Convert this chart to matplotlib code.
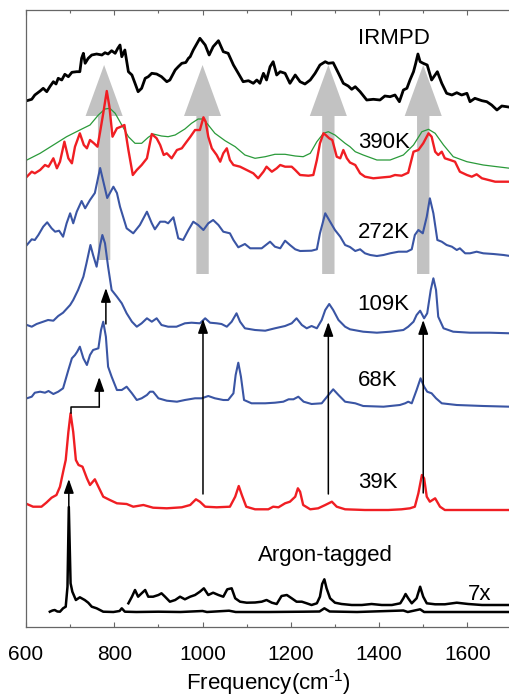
import matplotlib
matplotlib.use("Agg")
import matplotlib.pyplot as plt
from matplotlib.patches import Polygon

plt.rcParams['font.family'] = ['Liberation Sans', 'DejaVu Sans']
plt.rcParams['mathtext.fontset'] = 'custom'
plt.rcParams['mathtext.rm'] = 'Liberation Sans'
plt.rcParams['mathtext.it'] = 'Liberation Sans:italic'

# ---- spectra (frequency in cm-1, relative intensity in arbitrary units) ----
irmpd_freq = [602, 613, 620, 632, 639, 647, 654, 662, 668, 673, 681, 688, 696, 704, 715, 722, 726, 730, 734, 741,
              749, 760, 772, 779, 786, 794, 802, 808, 813, 817, 824, 832, 840, 847, 854, 862, 870, 877, 885, 896,
              907, 919, 926, 938, 945, 953, 962, 968, 972, 979, 994, 1006, 1015, 1024, 1036, 1047, 1058, 1070, 1081, 1092,
              1104, 1115, 1123, 1130, 1138, 1145, 1153, 1160, 1168, 1176, 1187, 1198, 1210, 1221, 1232, 1244, 1255, 1266, 1278, 1285,
              1296, 1308, 1319, 1330, 1338, 1346, 1357, 1372, 1387, 1402, 1413, 1425, 1436, 1446, 1455, 1463, 1470, 1478, 1483, 1488,
              1493, 1500, 1509, 1519, 1532, 1542, 1553, 1565, 1576, 1587, 1599, 1606, 1617, 1633, 1644, 1655, 1667, 1678, 1689, 1697]
irmpd_int = [26.3, 27.7, 32, 36, 38.7, 35.3, 40.3, 45.3, 43, 48.7, 47, 52.7, 50.3, 54.7, 55.3, 55.3, 68.7, 73.7, 63.7, 68.7,
             72, 73, 72, 74.3, 73, 76.3, 73.7, 78.7, 82, 70.3, 77, 55.3, 52, 43.7, 35.3, 38.7, 48.7, 50.3, 53.7, 53,
             50.3, 45.3, 47, 57, 60.3, 63.7, 64.5, 68.7, 70.3, 77, 88.7, 82, 72, 80.3, 86.3, 75.3, 73.7, 62, 53.7, 45.3,
             46.3, 43.7, 47, 43.7, 53.7, 47, 60.3, 65.3, 52, 55.3, 53.7, 43.7, 52, 45.3, 43, 47, 53.7, 62, 65.3, 63.7,
             64.3, 53.7, 43.7, 41, 37.7, 40.3, 35.3, 27, 27.7, 27, 31, 30.3, 32, 25.3, 37, 38.7, 47, 55.3, 63.7, 73,
             65.3, 63.7, 62, 47, 55.3, 43.7, 33.7, 32, 34.3, 32, 33.7, 25.3, 28.7, 26.3, 25.3, 22, 17, 21, 20.3, 19.7]

k390_freq = [602, 613, 620, 632, 643, 651, 662, 670, 677, 687, 696, 704, 711, 722, 731, 738, 745, 754, 762, 768,
             775, 783, 789, 796, 806, 815, 823, 832, 842, 851, 862, 874, 885, 896, 904, 912, 919, 930, 942, 953,
             964, 972, 983, 994, 1002, 1007, 1013, 1021, 1032, 1040, 1047, 1055, 1062, 1070, 1085, 1100, 1115, 1126, 1138, 1145,
             1157, 1168, 1176, 1187, 1202, 1210, 1221, 1240, 1251, 1259, 1266, 1274, 1279, 1287, 1294, 1304, 1312, 1319, 1327, 1334,
             1346, 1357, 1368, 1387, 1410, 1425, 1436, 1451, 1466, 1478, 1489, 1500, 1512, 1519, 1527, 1534, 1542, 1549, 1561, 1572,
             1583, 1599, 1610, 1621, 1633, 1648, 1663, 1674, 1693]
k390_int = [3.3, 8.3, 6.7, 10, 15, 13.3, 21.7, 11.7, 18.3, 38.3, 21.7, 16.7, 33.3, 46.7, 35, 31.7, 40, 36.7, 33.3, 48.3,
            66.7, 89, 73.3, 43.3, 51.7, 53.3, 55, 30, 5, 10, 15, 21.7, 46, 41.7, 35, 25, 26.7, 21.7, 30, 31.7,
            38.3, 43, 50, 50, 62.7, 58.3, 43.3, 31.7, 25, 18.3, 26.7, 31.7, 20, 15, 13.3, 10, 6.7, 1.7, 8.3, 13.3,
            8.3, 11.7, 15, 13.3, 13.3, 10, 5, 4.3, 5, 20, 36.7, 46.7, 45, 41.7, 40, 23.3, 21.7, 30, 21.7, 17.5,
            15, 6.7, 3.3, 1.7, 2.7, 3.3, 5, 4.3, 7.3, 28.3, 30, 36.7, 46.7, 43.3, 28.3, 25, 28.3, 21.7, 20, 18.3,
            8.3, 5, 3.3, 5.7, 1.7, 0, -1.7, -1.7, -1.7]

k390_broad_freq = [602, 632, 662, 692, 722, 745, 764, 779, 790, 802, 817, 832, 847, 862, 877, 888, 907, 922, 938, 960,
                   975, 990, 1002, 1013, 1028, 1051, 1074, 1096, 1119, 1142, 1164, 1187, 1210, 1228, 1244, 1259, 1274, 1285, 1300, 1323,
                   1334, 1346, 1364, 1395, 1425, 1455, 1478, 1497, 1512, 1527, 1546, 1568, 1599, 1636, 1667, 1697]
k390_broad_int = [20, 26.7, 35, 43.3, 50, 55, 65, 71, 71.7, 66.7, 55, 43.3, 36.7, 36.7, 42.7, 46, 44, 43.3, 45, 51,
                  56.7, 61, 61, 55, 46.7, 39.3, 33.3, 25, 21.7, 23.3, 25.7, 25.7, 24, 23.3, 26.7, 38.3, 46.7, 48.3, 45, 36.7,
                  33.3, 28.3, 25, 20, 20, 25, 35, 48.3, 50.7, 46.7, 35, 23.3, 18.3, 15, 13.3, 11.7]

k272_freq = [602, 613, 620, 628, 639, 648, 658, 666, 675, 684, 692, 700, 707, 715, 726, 734, 745, 756, 768, 784,
             798, 806, 813, 828, 843, 858, 874, 885, 892, 904, 915, 922, 934, 945, 956, 968, 979, 990, 1002, 1013,
             1024, 1036, 1047, 1062, 1070, 1081, 1096, 1108, 1134, 1153, 1164, 1176, 1187, 1198, 1210, 1221, 1247, 1259, 1266, 1278,
             1289, 1300, 1312, 1323, 1334, 1346, 1357, 1368, 1380, 1395, 1410, 1425, 1444, 1463, 1474, 1481, 1489, 1499, 1508, 1515,
             1523, 1532, 1542, 1553, 1565, 1576, 1583, 1595, 1606, 1621, 1636, 1659, 1682, 1697]
k272_int = [5, 10.7, 10, 15, 23.3, 27.7, 21.7, 18.3, 19.3, 13.3, 26.7, 36.7, 26.7, 38.3, 49, 41.7, 50, 57, 82, 52,
            63.3, 57, 43.3, 21.7, 16.7, 25, 38.3, 26.7, 20.7, 28.3, 28.3, 26.7, 32.7, 11.7, 10, 20, 28.3, 25, 20, 26.7,
            30, 25, 18.3, 16.7, 10, 2.7, 6, 1.7, 1.7, 8.3, 3.3, 1.7, 9.3, 5, 0.7, -1, -0.7, 0.7, 16.7, 36.7,
            28.3, 20, 13.3, 5, 3, -1, 0.7, -3.3, -5, -6, -5, -3.3, -1.7, -1.7, 0.7, 15, 20, 16.7, 33.3, 51.7,
            36.7, 10, 8.3, 5, 3.3, 0, 1.7, -3.3, -3.3, -1.7, -3.3, -4, -5, -6]

k109_freq = [602, 613, 624, 639, 650, 662, 673, 684, 700, 707, 718, 730, 737, 746, 752, 760, 768, 773, 779, 786,
             794, 806, 817, 828, 840, 851, 862, 874, 885, 896, 907, 922, 941, 960, 975, 994, 1006, 1017, 1032, 1043,
             1055, 1066, 1077, 1085, 1096, 1119, 1142, 1164, 1187, 1202, 1213, 1225, 1236, 1247, 1259, 1270, 1278, 1287, 1296, 1308,
             1323, 1334, 1364, 1395, 1425, 1455, 1466, 1478, 1485, 1493, 1502, 1509, 1517, 1523, 1529, 1534, 1546, 1568, 1606, 1651,
             1697]
k109_int = [5, 3.3, 6, 8.3, 10, 9.3, 14, 17.3, 25, 30, 40, 53.3, 66.7, 85, 75, 63.3, 85, 95, 86.7, 63.3,
            40, 33.3, 26.7, 16.7, 8.3, 3.3, 6.7, 11.7, 8.3, 11.7, 5, 3.3, 3.3, 6.7, 7.3, 6.7, 11.7, 7.3, 6.7, 6,
            3.3, 8.3, 16.7, 8.3, 1.7, 0, -0.7, 1.7, 4, 6.7, 11.7, 5, 1.7, 4, 1.7, 10, 20, 26, 20, 10,
            3.3, 0.7, -1.7, -2.7, -1.7, 0, 3.3, 8.3, 15, 19.3, 11.7, 16.7, 40, 51.7, 40, 13.3, 1.7, -1.7, -2.7, -2.7,
            -3.3]

k68_freq = [602, 613, 620, 632, 643, 651, 662, 673, 684, 696, 704, 711, 716, 722, 730, 738, 745, 752, 764, 770,
            775, 781, 786, 794, 806, 817, 828, 840, 851, 862, 874, 881, 888, 900, 919, 942, 960, 983, 998, 1013,
            1028, 1047, 1058, 1070, 1075, 1081, 1087, 1094, 1111, 1142, 1164, 1183, 1195, 1206, 1217, 1229, 1247, 1270, 1281, 1296,
            1308, 1323, 1346, 1364, 1410, 1447, 1459, 1466, 1474, 1485, 1494, 1502, 1509, 1519, 1529, 1542, 1576, 1636, 1697]
k68_int = [3.7, 5.3, 9.3, 10.3, 9.3, 11, 8, 10.3, 13.7, 32, 43.7, 47, 50.3, 55.3, 43.7, 37, 47, 52, 53.7, 72,
           80.3, 65.3, 35.3, 25.3, 12, 12, 15.3, 8.7, 2, 3.7, 7, 10.3, 10.3, 3.7, 1.3, 0.3, 2, 3.7, 3.7, 6,
           3.7, 2, 2, 8.7, 27, 39.3, 25.3, 2, -1.3, -1.3, -0.7, 0.3, 2.7, 2.7, 5.3, 0.3, -2, -1.3, 4.7, 12.7,
           7, 0.3, -1.3, -4, -4.7, -3, -1.3, 0.3, -1.3, 12, 23.7, 15.3, 10.3, 8.7, 3.7, -1.3, -3, -4, -4.7]

k39_freq = [602, 616, 635, 646, 658, 669, 677, 685, 690, 696, 701, 707, 713, 719, 728, 738, 745, 756, 764, 775,
            790, 806, 828, 843, 866, 888, 919, 953, 972, 985, 994, 1006, 1032, 1062, 1074, 1082, 1089, 1099, 1119, 1149,
            1160, 1172, 1187, 1198, 1210, 1216, 1221, 1228, 1244, 1262, 1278, 1293, 1304, 1323, 1368, 1421, 1451, 1470, 1481, 1489,
            1497, 1502, 1508, 1515, 1527, 1538, 1549, 1610, 1697]
k39_int = [3, 0.3, 0.3, 4.3, 9.3, 12, 20.3, 37, 47, 75, 93.7, 75, 47, 42, 40.3, 28.7, 22, 27.7, 20.3, 10.3,
           7, 3.7, 3, 0.3, 2, -0.7, -1.3, -0.3, 2, 7.7, 5.3, 0.3, -0.3, 0.3, 10.3, 21, 12, 0.3, -2.3, -2.3,
           0.3, -0.3, 3.7, 5.3, 10.3, 18.7, 15.3, 2, -2.3, -1.3, 2, 5.3, 0.3, -2.3, -3, -3, -2.3, -1.3, 0.3, 13.7,
           32, 28.7, 10.3, 5.3, 8.7, 0.3, -3, -3, -3]

argon_freq = [654, 660, 665, 671, 677, 684, 690, 694, 697, 701, 705, 713, 722, 733, 741, 749, 760, 775, 798, 812,
              817, 824, 850, 900, 950, 1000, 1010, 1060, 1075, 1150, 1230, 1265, 1276, 1288, 1350, 1455, 1465, 1493, 1502, 1600,
              1697]
argon_int = [0.3, 1.5, 2, 0.5, 0.3, 3.7, 5.3, 25.3, 105, 28.7, 20.3, 12, 14.7, 12, 9.3, 5.3, 3.7, 0.3, 0, 1,
             3.7, 0.3, 0, 0.3, 0, 1, 0, 1.3, 0, 0, 0.3, 0.5, 3.7, 0.5, 0, 1.5, 0, 2.7, 0, 0,
             0]

argon7x_freq = [832, 840, 847, 854, 862, 870, 877, 888, 900, 907, 915, 926, 938, 949, 960, 972, 983, 994, 1003, 1013,
                1024, 1036, 1047, 1056, 1066, 1074, 1085, 1100, 1119, 1134, 1145, 1157, 1168, 1179, 1191, 1202, 1213, 1225, 1236, 1247,
                1259, 1266, 1271, 1276, 1281, 1289, 1300, 1315, 1338, 1361, 1383, 1406, 1429, 1448, 1455, 1460, 1466, 1474, 1485, 1493,
                1500, 1508, 1527, 1549, 1576, 1602, 1633, 1663, 1697]
argon7x_int = [1.7, 8.3, 15, 8.3, 11.7, 15, 8.3, 8.3, 10, 11.7, 8.3, 3.3, 5, 8.3, 5.7, 8.3, 10, 13.3, 16.7, 10,
               12.3, 10, 8.3, 15.7, 16.7, 6.7, 3.3, 2.3, 2.5, 3.3, 5, 2.3, 1, 9, 10, 6.7, 3.3, 3.3, 1.7, 0,
               1.7, 8.3, 21, 25.7, 16.7, 6.7, 2.3, 1, 0, 0, 1, 0, 0, 1.7, 6.7, 11, 6.7, 1.7, 6.7, 18.3,
               8.3, 1.7, 0.7, 0.7, 2.3, 1, 0, 0, 0]

# vertical stacking offsets and styles
RED, BLUE, GREEN = '#f01e23', '#3a55a4', '#2a9a3a'
traces = [
    # (freq, intensity, offset, color, linewidth)
    (irmpd_freq, irmpd_int, 500, 'black', 2.0),
    (k390_broad_freq, k390_broad_int, 447, GREEN, 0.9),
    (k390_freq, k390_int, 447, RED, 1.7),
    (k272_freq, k272_int, 377, BLUE, 1.5),
    (k109_freq, k109_int, 297, BLUE, 1.5),
    (k68_freq, k68_int, 225, BLUE, 1.5),
    (k39_freq, k39_int, 120, RED, 1.7),
    (argon7x_freq, argon7x_int, 22, 'black', 1.8),
    (argon_freq, argon_int, 15, 'black', 1.8),
]

labels = [("IRMPD", 1352, 589), ("390K", 1352, 484), ("272K", 1351, 395),
          ("109K", 1351, 322), ("68K", 1351, 247), ("39K", 1352, 145),
          ("Argon-tagged", 1126, 72), ("7x", 1602, 32)]

# broad grey arrows: centre frequency, base of shaft
grey_arrow_freq = [777, 1000, 1285, 1500]
grey_arrow_base = [367, 353, 353, 353]
grey_arrow_tip, grey_head_base = 562, 511
shaft_half, head_half = 14, 42

# thin black correlation arrows: (freq, start, end)
thin_arrows = [(781, 303, 339), (1001, 133, 308), (1285, 133, 305),
               (1500, 134, 307), (697, 120, 148)]
elbow_path = [(701, 214), (701, 220), (766, 220)]
elbow_tip = (766, 250)

fig = plt.figure(figsize=(5.10, 6.99), dpi=100)
ax = fig.add_axes([26 / 510, 72 / 699, 485.5 / 510, 617 / 699])
ax.set_xlim(600, 1700)
ax.set_ylim(0, 617)

for f, base, in zip(grey_arrow_freq, grey_arrow_base):
    verts = [(f - shaft_half, base), (f + shaft_half, base),
             (f + shaft_half, grey_head_base), (f + head_half, grey_head_base),
             (f, grey_arrow_tip), (f - head_half, grey_head_base),
             (f - shaft_half, grey_head_base)]
    ax.add_patch(Polygon(verts, closed=True, facecolor='#c2c2c2',
                         edgecolor='none', zorder=1))

for freq, inten, off, color, lw in traces:
    ax.plot(freq, [v + off for v in inten], color=color, lw=lw,
            solid_joinstyle='round', zorder=2)

arrow_kw = dict(arrowstyle='-|>,head_length=0.85,head_width=0.3',
                color='black', lw=1.1, shrinkA=0, shrinkB=0,
                mutation_scale=10)
for f, y0, y1 in thin_arrows:
    ax.annotate('', xy=(f, y1), xytext=(f, y0), arrowprops=arrow_kw,
                zorder=4)
ax.plot([p[0] for p in elbow_path], [p[1] for p in elbow_path],
        color='black', lw=1.1, zorder=4)
ax.annotate('', xy=elbow_tip, xytext=elbow_path[-1], arrowprops=arrow_kw,
            zorder=4)

for txt, x, y in labels:
    ax.text(x, y, txt, fontsize=16, ha='left', va='center', zorder=5)

ax.set_xticks(range(600, 1700, 200))
ax.set_xticks(range(700, 1700, 200), minor=True)
ax.set_yticks([])
ax.tick_params(axis='x', which='both', direction='in', top=True,
               color='#666666', labelsize=15, pad=13)
ax.tick_params(axis='x', which='major', length=3.6, width=0.8)
ax.tick_params(axis='x', which='minor', length=2.4, width=0.8)
for s in ax.spines.values():
    s.set_color('#666666')
    s.set_linewidth(0.9)
ax.set_xlabel('Frequency(cm$^{\\mathrm{\u20101}}$)', fontsize=16, labelpad=2)

fig.savefig('out.png', dpi=100)
